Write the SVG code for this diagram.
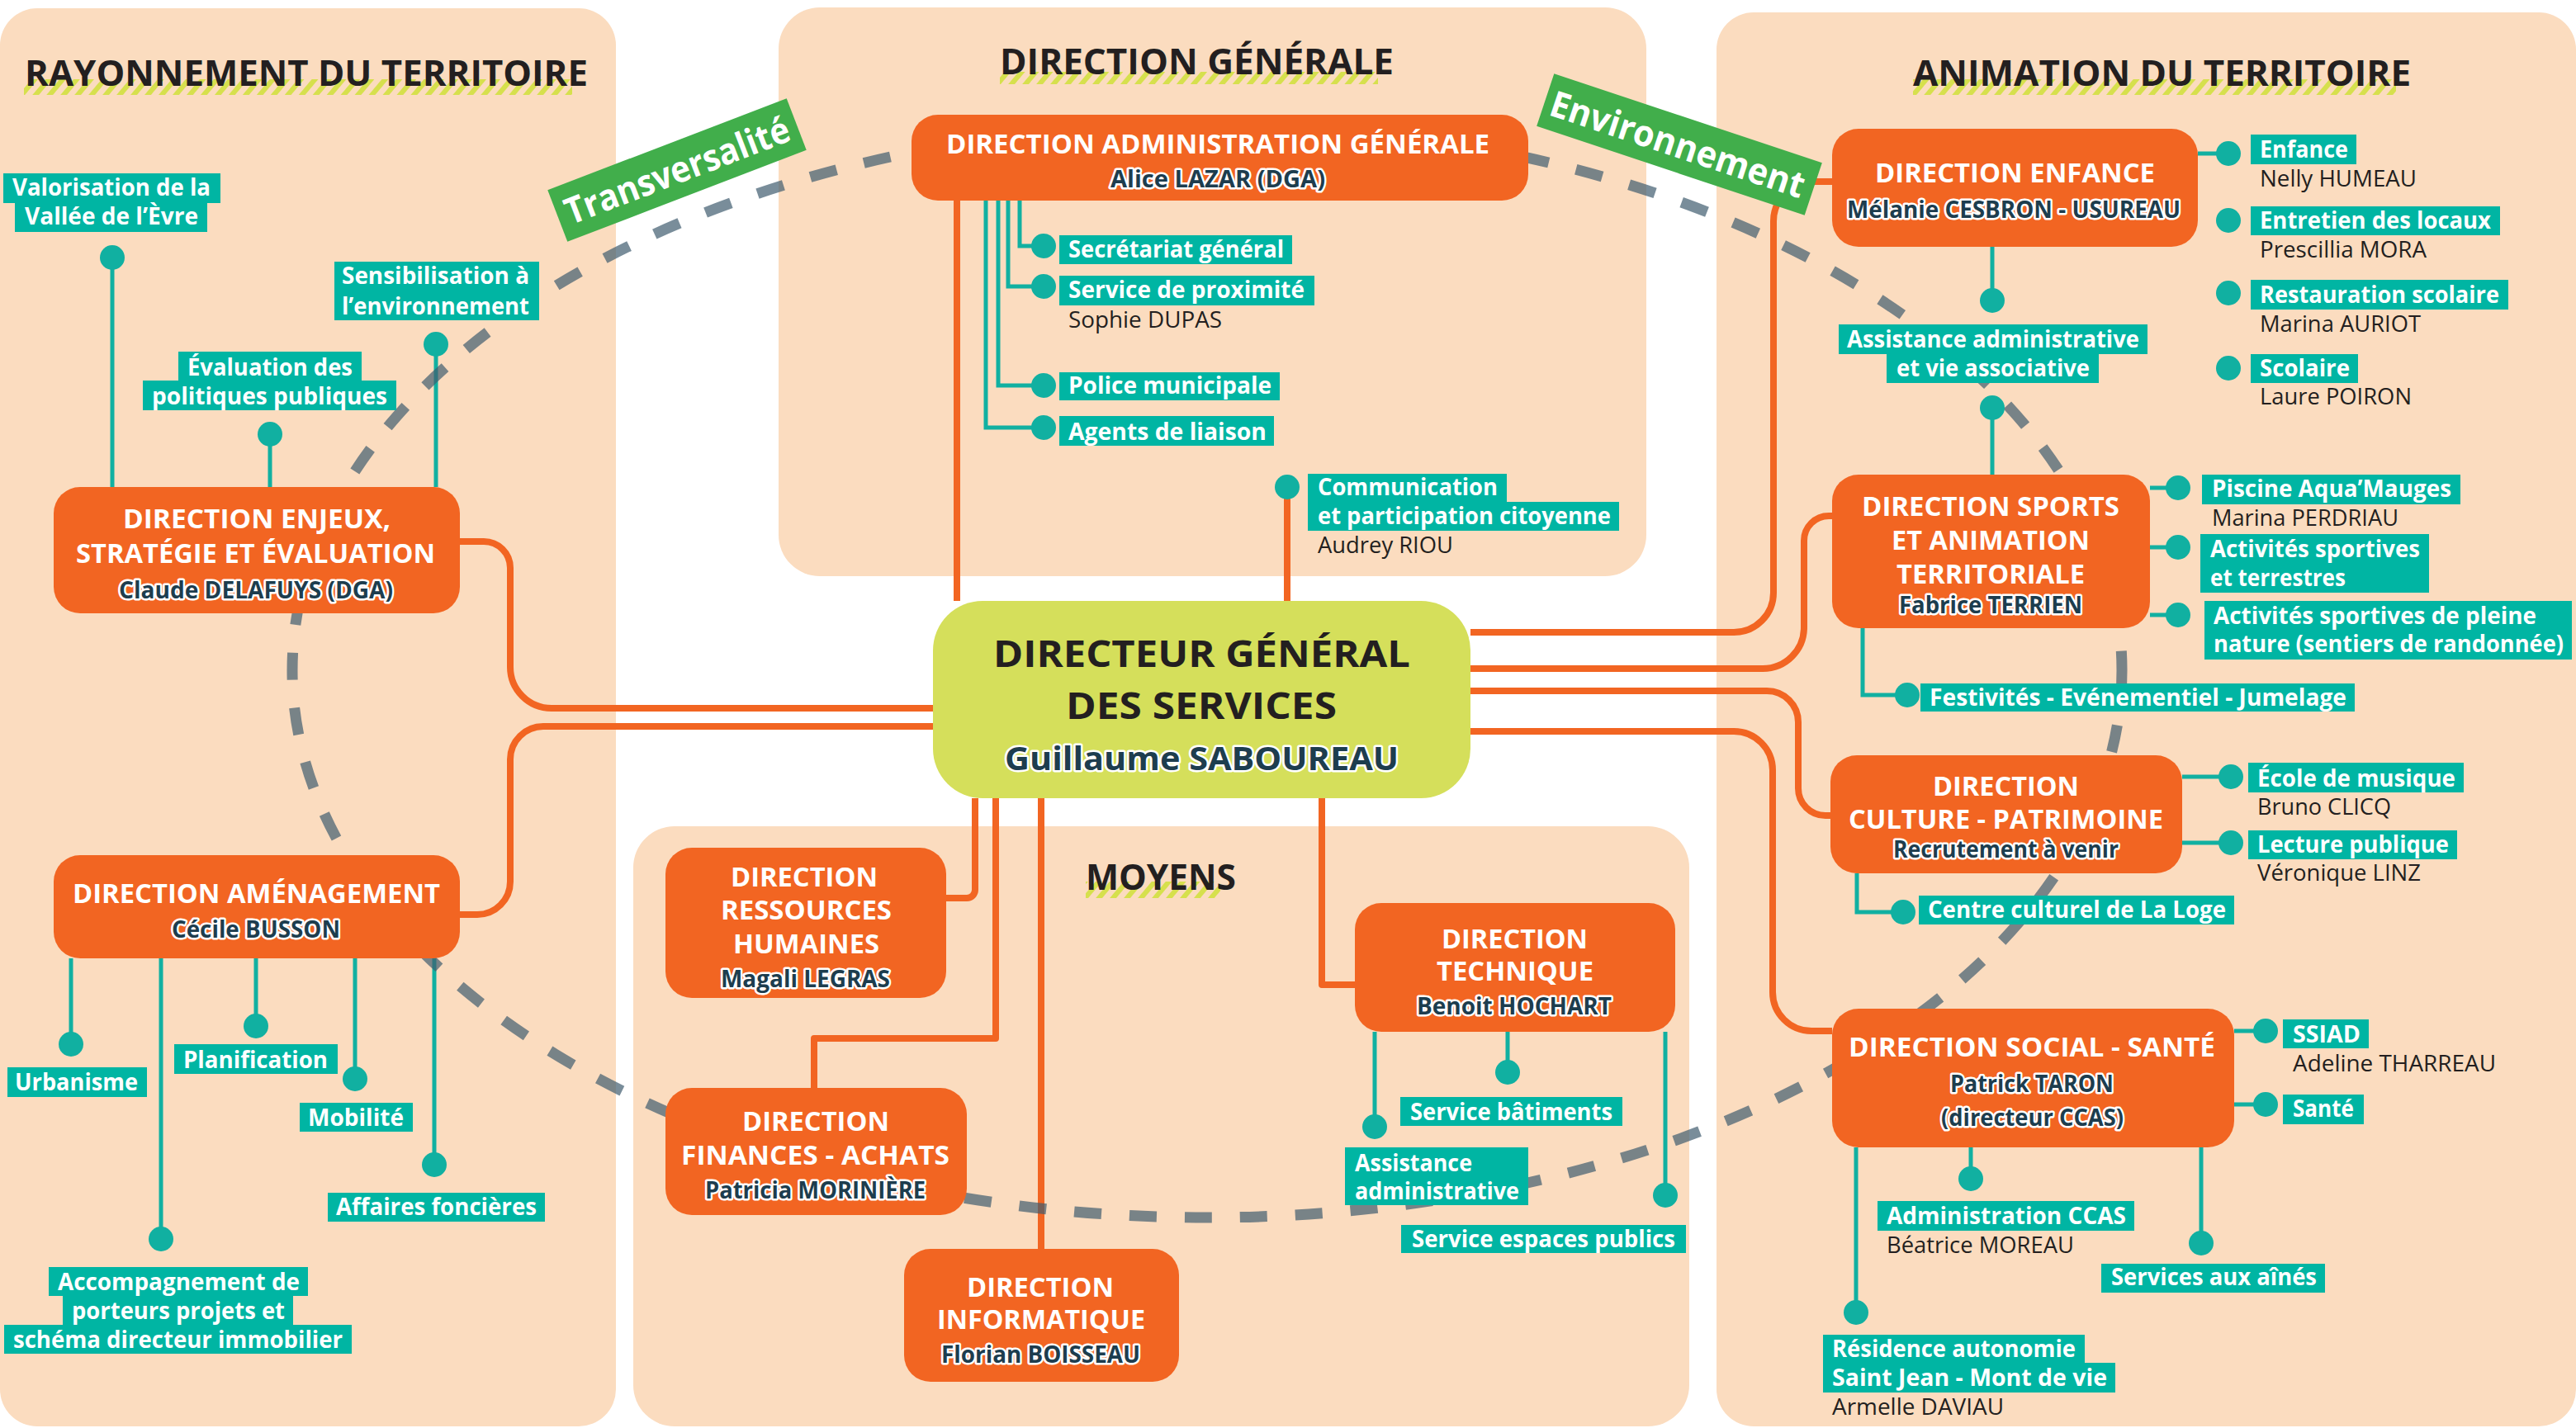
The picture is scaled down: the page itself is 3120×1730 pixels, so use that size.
<svg xmlns="http://www.w3.org/2000/svg" width="3120" height="1730" viewBox="0 0 3120 1730">
<style>
text{font-family:"Open Sans","Noto Sans","Liberation Sans",sans-serif}
.pan{fill:#fbdcbf}
.ttl{font-weight:700;font-size:43px;fill:#231f20}
.nd{fill:#f26522}
.ndt{font-weight:700;font-size:32px;fill:#fff}
.nm{font-weight:700;font-size:28px;fill:#1d3d4e;stroke:#fff;stroke-width:5;paint-order:stroke;stroke-linejoin:round}
.lb{fill:#00b5a3}
.lbt{font-weight:700;font-size:28px;fill:#fff}
.ps{font-weight:400;font-size:27px;fill:#231f20}
.or{fill:none;stroke:#f26522;stroke-width:8;stroke-linejoin:round}
.tl{fill:none;stroke:#11b0a1;stroke-width:5}
.dot{fill:#11b0a1}
.ban{fill:#41ae4b}
.bant{font-weight:700;font-size:44px;fill:#fff}
</style>
<defs>
<pattern id="hatch" patternUnits="userSpaceOnUse" width="13" height="13" patternTransform="rotate(40)">
<rect x="0" y="0" width="6" height="13" fill="#d6e04d"/>
</pattern>
</defs>
<rect width="3120" height="1730" fill="#fff"/>
<!-- panels -->
<g id="panels">
<rect class="pan" x="0" y="10" width="746" height="1718" rx="45"/>
<rect class="pan" x="943" y="9" width="1051" height="689" rx="50"/>
<rect class="pan" x="767" y="1001" width="1279" height="727" rx="50"/>
<rect class="pan" x="2079" y="15" width="1041" height="1713" rx="45"/>
</g>
<g id="titles">
<rect x="29" y="96" width="664" height="19" fill="url(#hatch)"/>
<text class="ttl" x="30" y="104" textLength="682" lengthAdjust="spacingAndGlyphs">RAYONNEMENT DU TERRITOIRE</text>
<rect x="1211" y="87" width="458" height="15" fill="url(#hatch)"/>
<text class="ttl" x="1211" y="90" textLength="477" lengthAdjust="spacingAndGlyphs">DIRECTION GÉNÉRALE</text>
<rect x="2317" y="96" width="585" height="19" fill="url(#hatch)"/>
<text class="ttl" x="2317" y="104" textLength="603" lengthAdjust="spacingAndGlyphs">ANIMATION DU TERRITOIRE</text>
<rect x="1315" y="1068" width="163" height="20" fill="url(#hatch)"/>
<text class="ttl" x="1315" y="1078" textLength="182" lengthAdjust="spacingAndGlyphs">MOYENS</text>
</g>
<!-- connectors -->
<g id="connectors">
<path class="or" d="M1159,243 V728"/>
<path class="or" d="M1559,590 V728"/>
<path class="or" d="M1130,858 H668 A50,50 0 0 1 618,808 V688 A32,32 0 0 0 586,656 H557"/>
<path class="or" d="M1130,880 H658 A40,40 0 0 0 618,920 V1068 A40,40 0 0 1 578,1108 H557"/>
<path class="or" d="M1781,766 H2100 A48,48 0 0 0 2148,718 V268 A48,48 0 0 1 2196,220 H2219"/>
<path class="or" d="M1781,810 H2135 A50,50 0 0 0 2185,760 V655 A30,30 0 0 1 2215,625 H2219"/>
<path class="or" d="M1781,837 H2140 A38,38 0 0 1 2178,875 V955 A33,33 0 0 0 2211,988 H2217"/>
<path class="or" d="M1781,886 H2100 A47,47 0 0 1 2147,933 V1202 A47,47 0 0 0 2194,1249 H2219"/>
<path class="or" d="M1181,967 V1078 A10,10 0 0 1 1171,1088 H1146"/>
<path class="or" d="M1206,967 V1258 H986 V1318"/>
<path class="or" d="M1261,967 V1513"/>
<path class="or" d="M1601,967 V1193 H1641"/>
<path class="tl" d="M1235,243 V298 H1264 M1221,243 V347 H1264 M1209,243 V467 H1264 M1194,243 V518 H1264"/>
<path class="tl" d="M136,590 V312 M327,590 V526 M528,590 V417"/>
<path class="tl" d="M86,1161 V1265 M195,1161 V1501 M310,1161 V1243 M430,1161 V1307 M526,1161 V1411"/>
<path class="tl" d="M1665,1250 V1365 M1826,1250 V1299 M2017,1250 V1448"/>
<path class="tl" d="M2662,186 H2699 M2413,299 V364 M2413,494 V575"/>
<path class="tl" d="M2604,591 H2638 M2604,663 H2638 M2604,745 H2638 M2256,761 V842 H2310"/>
<path class="tl" d="M2643,941 H2702 M2643,1021 H2702 M2249,1058 V1105 H2305"/>
<path class="tl" d="M2706,1249 H2744 M2706,1338 H2744 M2387,1390 V1428 M2666,1390 V1506 M2248,1390 V1590"/>
<ellipse cx="1462" cy="812" rx="1108" ry="663" fill="none" stroke="#405d6f" stroke-opacity="0.7" stroke-width="13" stroke-dasharray="33 34"/>
</g>
<g id="dots">
<circle class="dot" cx="136" cy="312" r="15"/><circle class="dot" cx="327" cy="526" r="15"/><circle class="dot" cx="528" cy="417" r="15"/>
<circle class="dot" cx="86" cy="1265" r="15"/><circle class="dot" cx="195" cy="1501" r="15"/><circle class="dot" cx="310" cy="1243" r="15"/><circle class="dot" cx="430" cy="1307" r="15"/><circle class="dot" cx="526" cy="1411" r="15"/>
<circle class="dot" cx="1264" cy="298" r="15"/><circle class="dot" cx="1264" cy="347" r="15"/><circle class="dot" cx="1264" cy="467" r="15"/><circle class="dot" cx="1264" cy="518" r="15"/><circle class="dot" cx="1559" cy="590" r="15"/>
<circle class="dot" cx="1665" cy="1365" r="15"/><circle class="dot" cx="1826" cy="1299" r="15"/><circle class="dot" cx="2017" cy="1448" r="15"/>
<circle class="dot" cx="2699" cy="186" r="15"/><circle class="dot" cx="2699" cy="267" r="15"/><circle class="dot" cx="2699" cy="355" r="15"/><circle class="dot" cx="2699" cy="446" r="15"/><circle class="dot" cx="2413" cy="364" r="15"/><circle class="dot" cx="2413" cy="494" r="15"/>
<circle class="dot" cx="2638" cy="591" r="15"/><circle class="dot" cx="2638" cy="663" r="15"/><circle class="dot" cx="2638" cy="745" r="15"/><circle class="dot" cx="2310" cy="842" r="15"/>
<circle class="dot" cx="2702" cy="941" r="15"/><circle class="dot" cx="2702" cy="1021" r="15"/><circle class="dot" cx="2305" cy="1105" r="15"/>
<circle class="dot" cx="2744" cy="1249" r="15"/><circle class="dot" cx="2744" cy="1338" r="15"/><circle class="dot" cx="2387" cy="1428" r="15"/><circle class="dot" cx="2666" cy="1506" r="15"/><circle class="dot" cx="2248" cy="1590" r="15"/>
</g>
<!-- banners -->
<g id="banner-transversalite" transform="translate(820,206) rotate(-21)">
<rect class="ban" x="-155" y="-33.5" width="310" height="67"/>
<text class="bant" x="-144" y="16" textLength="288" lengthAdjust="spacingAndGlyphs">Transversalité</text>
</g>
<g id="banner-environnement" transform="translate(2034,175) rotate(18.4)">
<rect class="ban" x="-171" y="-33.5" width="342" height="67"/>
<text class="bant" x="-163" y="16" textLength="322" lengthAdjust="spacingAndGlyphs">Environnement</text>
</g>
<!-- central -->
<g id="dgs">
<rect x="1130" y="728" width="651" height="239" rx="60" fill="#d5df5b"/>
<text x="1203" y="808" font-weight="700" font-size="45" fill="#231f20" textLength="505" lengthAdjust="spacingAndGlyphs">DIRECTEUR GÉNÉRAL</text>
<text x="1291" y="871" font-weight="700" font-size="45" fill="#231f20" textLength="328" lengthAdjust="spacingAndGlyphs">DES SERVICES</text>
<text class="nm" x="1217" y="933" font-size="40" textLength="477" lengthAdjust="spacingAndGlyphs" style="font-size:40px">Guillaume SABOUREAU</text>
</g>
<g id="dag">
<rect class="nd" x="1104" y="139" width="747" height="104" rx="32"/>
<text class="ndt" x="1146" y="186" textLength="658" lengthAdjust="spacingAndGlyphs">DIRECTION ADMINISTRATION GÉNÉRALE</text>
<text class="nm" x="1345" y="227" textLength="260" lengthAdjust="spacingAndGlyphs">Alice LAZAR (DGA)</text>
</g>
<g id="enjeux">
<rect class="nd" x="65" y="590" width="492" height="153" rx="32"/>
<text class="ndt" x="149" y="640" textLength="324" lengthAdjust="spacingAndGlyphs">DIRECTION ENJEUX,</text>
<text class="ndt" x="92" y="682" textLength="435" lengthAdjust="spacingAndGlyphs">STRATÉGIE ET ÉVALUATION</text>
<text class="nm" x="144" y="725" textLength="332" lengthAdjust="spacingAndGlyphs">Claude DELAFUYS (DGA)</text>
</g>
<g id="amenagement">
<rect class="nd" x="65" y="1036" width="492" height="125" rx="32"/>
<text class="ndt" x="88" y="1094" textLength="445" lengthAdjust="spacingAndGlyphs">DIRECTION AMÉNAGEMENT</text>
<text class="nm" x="208" y="1136" textLength="204" lengthAdjust="spacingAndGlyphs">Cécile BUSSON</text>
</g>
<g id="rh">
<rect class="nd" x="806" y="1027" width="340" height="182" rx="32"/>
<text class="ndt" x="885" y="1074" textLength="178" lengthAdjust="spacingAndGlyphs">DIRECTION</text>
<text class="ndt" x="873" y="1114" textLength="207" lengthAdjust="spacingAndGlyphs">RESSOURCES</text>
<text class="ndt" x="888" y="1155" textLength="177" lengthAdjust="spacingAndGlyphs">HUMAINES</text>
<text class="nm" x="873" y="1196" textLength="205" lengthAdjust="spacingAndGlyphs">Magali LEGRAS</text>
</g>
<g id="finances">
<rect class="nd" x="806" y="1318" width="365" height="154" rx="32"/>
<text class="ndt" x="899" y="1370" textLength="178" lengthAdjust="spacingAndGlyphs">DIRECTION</text>
<text class="ndt" x="825" y="1411" textLength="325" lengthAdjust="spacingAndGlyphs">FINANCES - ACHATS</text>
<text class="nm" x="854" y="1452" textLength="267" lengthAdjust="spacingAndGlyphs">Patricia MORINIÈRE</text>
</g>
<g id="informatique">
<rect class="nd" x="1095" y="1513" width="333" height="161" rx="32"/>
<text class="ndt" x="1171" y="1571" textLength="178" lengthAdjust="spacingAndGlyphs">DIRECTION</text>
<text class="ndt" x="1135" y="1610" textLength="252" lengthAdjust="spacingAndGlyphs">INFORMATIQUE</text>
<text class="nm" x="1140" y="1651" textLength="241" lengthAdjust="spacingAndGlyphs">Florian BOISSEAU</text>
</g>
<g id="technique">
<rect class="nd" x="1641" y="1094" width="388" height="156" rx="32"/>
<text class="ndt" x="1746" y="1149" textLength="177" lengthAdjust="spacingAndGlyphs">DIRECTION</text>
<text class="ndt" x="1740" y="1188" textLength="190" lengthAdjust="spacingAndGlyphs">TECHNIQUE</text>
<text class="nm" x="1716" y="1229" textLength="236" lengthAdjust="spacingAndGlyphs">Benoit HOCHART</text>
</g>
<g id="enfance">
<rect class="nd" x="2219" y="156" width="443" height="143" rx="32"/>
<text class="ndt" x="2271" y="221" textLength="339" lengthAdjust="spacingAndGlyphs">DIRECTION ENFANCE</text>
<text class="nm" x="2237" y="264" textLength="404" lengthAdjust="spacingAndGlyphs">Mélanie CESBRON - USUREAU</text>
</g>
<g id="sports">
<rect class="nd" x="2219" y="575" width="385" height="186" rx="32"/>
<text class="ndt" x="2255" y="625" textLength="312" lengthAdjust="spacingAndGlyphs">DIRECTION SPORTS</text>
<text class="ndt" x="2291" y="666" textLength="240" lengthAdjust="spacingAndGlyphs">ET ANIMATION</text>
<text class="ndt" x="2297" y="707" textLength="228" lengthAdjust="spacingAndGlyphs">TERRITORIALE</text>
<text class="nm" x="2300" y="743" textLength="222" lengthAdjust="spacingAndGlyphs">Fabrice TERRIEN</text>
</g>
<g id="culture">
<rect class="nd" x="2217" y="915" width="426" height="143" rx="32"/>
<text class="ndt" x="2341" y="964" textLength="177" lengthAdjust="spacingAndGlyphs">DIRECTION</text>
<text class="ndt" x="2239" y="1004" textLength="381" lengthAdjust="spacingAndGlyphs">CULTURE - PATRIMOINE</text>
<text class="nm" x="2293" y="1039" textLength="273" lengthAdjust="spacingAndGlyphs">Recrutement à venir</text>
</g>
<g id="social">
<rect class="nd" x="2219" y="1222" width="487" height="168" rx="32"/>
<text class="ndt" x="2239" y="1280" textLength="444" lengthAdjust="spacingAndGlyphs">DIRECTION SOCIAL - SANTÉ</text>
<text class="nm" x="2362" y="1323" textLength="198" lengthAdjust="spacingAndGlyphs">Patrick TARON</text>
<text class="nm" x="2351" y="1364" textLength="221" lengthAdjust="spacingAndGlyphs">(directeur CCAS)</text>
</g>
<!-- labels -->
<g id="lbl-valorisation"><rect class="lb" x="4" y="210" width="263" height="36"/><rect class="lb" x="18" y="246" width="233" height="35"/>
<text class="lbt" x="15" y="237" textLength="240" lengthAdjust="spacingAndGlyphs">Valorisation de la</text>
<text class="lbt" x="30" y="272" textLength="210" lengthAdjust="spacingAndGlyphs">Vallée de l’Èvre</text></g>
<g id="lbl-sensibilisation"><rect class="lb" x="405" y="317" width="248" height="35"/><rect class="lb" x="405" y="352" width="248" height="36"/>
<text class="lbt" x="414" y="344" textLength="227" lengthAdjust="spacingAndGlyphs">Sensibilisation à</text>
<text class="lbt" x="414" y="381" textLength="227" lengthAdjust="spacingAndGlyphs">l’environnement</text></g>
<g id="lbl-evaluation"><rect class="lb" x="216" y="426" width="222" height="35"/><rect class="lb" x="173" y="461" width="307" height="36"/>
<text class="lbt" x="227" y="455" textLength="200" lengthAdjust="spacingAndGlyphs">Évaluation des</text>
<text class="lbt" x="184" y="490" textLength="285" lengthAdjust="spacingAndGlyphs">politiques publiques</text></g>
<g id="lbl-urbanisme"><rect class="lb" x="9" y="1293" width="169" height="36"/>
<text class="lbt" x="18" y="1321" textLength="149" lengthAdjust="spacingAndGlyphs">Urbanisme</text></g>
<g id="lbl-planification"><rect class="lb" x="211" y="1265" width="198" height="36"/>
<text class="lbt" x="222" y="1294" textLength="175" lengthAdjust="spacingAndGlyphs">Planification</text></g>
<g id="lbl-mobilite"><rect class="lb" x="363" y="1336" width="137" height="35"/>
<text class="lbt" x="373" y="1364" textLength="116" lengthAdjust="spacingAndGlyphs">Mobilité</text></g>
<g id="lbl-affaires"><rect class="lb" x="397" y="1445" width="263" height="35"/>
<text class="lbt" x="407" y="1472" textLength="243" lengthAdjust="spacingAndGlyphs">Affaires foncières</text></g>
<g id="lbl-accompagnement"><rect class="lb" x="59" y="1535" width="314" height="35"/><rect class="lb" x="76" y="1570" width="279" height="35"/><rect class="lb" x="5" y="1605" width="421" height="35"/>
<text class="lbt" x="70" y="1563" textLength="293" lengthAdjust="spacingAndGlyphs">Accompagnement de</text>
<text class="lbt" x="87" y="1598" textLength="258" lengthAdjust="spacingAndGlyphs">porteurs projets et</text>
<text class="lbt" x="16" y="1633" textLength="399" lengthAdjust="spacingAndGlyphs">schéma directeur immobilier</text></g>
<g id="lbl-secretariat"><rect class="lb" x="1283" y="285" width="282" height="35"/>
<text class="lbt" x="1294" y="312" textLength="261" lengthAdjust="spacingAndGlyphs">Secrétariat général</text></g>
<g id="lbl-proximite"><rect class="lb" x="1283" y="334" width="309" height="36"/>
<text class="lbt" x="1294" y="361" textLength="286" lengthAdjust="spacingAndGlyphs">Service de proximité</text>
<text class="ps" x="1294" y="397" textLength="186" lengthAdjust="spacingAndGlyphs">Sophie DUPAS</text></g>
<g id="lbl-police"><rect class="lb" x="1283" y="451" width="267" height="34"/>
<text class="lbt" x="1294" y="477" textLength="246" lengthAdjust="spacingAndGlyphs">Police municipale</text></g>
<g id="lbl-agents"><rect class="lb" x="1283" y="504" width="260" height="36"/>
<text class="lbt" x="1294" y="533" textLength="240" lengthAdjust="spacingAndGlyphs">Agents de liaison</text></g>
<g id="lbl-communication"><rect class="lb" x="1584" y="574" width="241" height="34"/><rect class="lb" x="1584" y="608" width="377" height="35"/>
<text class="lbt" x="1596" y="600" textLength="218" lengthAdjust="spacingAndGlyphs">Communication</text>
<text class="lbt" x="1596" y="635" textLength="355" lengthAdjust="spacingAndGlyphs">et participation citoyenne</text>
<text class="ps" x="1596" y="670" textLength="164" lengthAdjust="spacingAndGlyphs">Audrey RIOU</text></g>
<g id="lbl-batiments"><rect class="lb" x="1696" y="1329" width="269" height="35"/>
<text class="lbt" x="1708" y="1357" textLength="245" lengthAdjust="spacingAndGlyphs">Service bâtiments</text></g>
<g id="lbl-assist-tech"><rect class="lb" x="1629" y="1390" width="222" height="70"/>
<text class="lbt" x="1641" y="1419" textLength="142" lengthAdjust="spacingAndGlyphs">Assistance</text>
<text class="lbt" x="1641" y="1453" textLength="199" lengthAdjust="spacingAndGlyphs">administrative</text></g>
<g id="lbl-espaces"><rect class="lb" x="1697" y="1484" width="345" height="34"/>
<text class="lbt" x="1710" y="1511" textLength="319" lengthAdjust="spacingAndGlyphs">Service espaces publics</text></g>
<g id="lbl-enfance"><rect class="lb" x="2726" y="163" width="128" height="36"/>
<text class="lbt" x="2737" y="191" textLength="107" lengthAdjust="spacingAndGlyphs">Enfance</text>
<text class="ps" x="2737" y="226" textLength="190" lengthAdjust="spacingAndGlyphs">Nelly HUMEAU</text></g>
<g id="lbl-entretien"><rect class="lb" x="2726" y="250" width="302" height="35"/>
<text class="lbt" x="2737" y="277" textLength="280" lengthAdjust="spacingAndGlyphs">Entretien des locaux</text>
<text class="ps" x="2737" y="312" textLength="202" lengthAdjust="spacingAndGlyphs">Prescillia MORA</text></g>
<g id="lbl-restauration"><rect class="lb" x="2726" y="339" width="312" height="36"/>
<text class="lbt" x="2737" y="367" textLength="290" lengthAdjust="spacingAndGlyphs">Restauration scolaire</text>
<text class="ps" x="2737" y="402" textLength="195" lengthAdjust="spacingAndGlyphs">Marina AURIOT</text></g>
<g id="lbl-scolaire"><rect class="lb" x="2726" y="429" width="130" height="35"/>
<text class="lbt" x="2737" y="456" textLength="109" lengthAdjust="spacingAndGlyphs">Scolaire</text>
<text class="ps" x="2737" y="490" textLength="184" lengthAdjust="spacingAndGlyphs">Laure POIRON</text></g>
<g id="lbl-assist-asso"><rect class="lb" x="2227" y="393" width="374" height="36"/><rect class="lb" x="2285" y="429" width="257" height="35"/>
<text class="lbt" x="2237" y="421" textLength="354" lengthAdjust="spacingAndGlyphs">Assistance administrative</text>
<text class="lbt" x="2297" y="456" textLength="234" lengthAdjust="spacingAndGlyphs">et vie associative</text></g>
<g id="lbl-piscine"><rect class="lb" x="2667" y="575" width="313" height="36"/>
<text class="lbt" x="2679" y="602" textLength="290" lengthAdjust="spacingAndGlyphs">Piscine Aqua’Mauges</text>
<text class="ps" x="2679" y="637" textLength="226" lengthAdjust="spacingAndGlyphs">Marina PERDRIAU</text></g>
<g id="lbl-terrestres"><rect class="lb" x="2665" y="647" width="277" height="71"/>
<text class="lbt" x="2677" y="675" textLength="254" lengthAdjust="spacingAndGlyphs">Activités sportives</text>
<text class="lbt" x="2677" y="710" textLength="164" lengthAdjust="spacingAndGlyphs">et terrestres</text></g>
<g id="lbl-pleine-nature"><rect class="lb" x="2670" y="728" width="445" height="71"/>
<text class="lbt" x="2681" y="756" textLength="391" lengthAdjust="spacingAndGlyphs">Activités sportives de pleine</text>
<text class="lbt" x="2681" y="790" textLength="424" lengthAdjust="spacingAndGlyphs">nature (sentiers de randonnée)</text></g>
<g id="lbl-festivites"><rect class="lb" x="2326" y="828" width="526" height="34"/>
<text class="lbt" x="2337" y="855" textLength="505" lengthAdjust="spacingAndGlyphs">Festivités - Evénementiel - Jumelage</text></g>
<g id="lbl-musique"><rect class="lb" x="2723" y="924" width="261" height="36"/>
<text class="lbt" x="2734" y="953" textLength="240" lengthAdjust="spacingAndGlyphs">École de musique</text>
<text class="ps" x="2734" y="987" textLength="162" lengthAdjust="spacingAndGlyphs">Bruno CLICQ</text></g>
<g id="lbl-lecture"><rect class="lb" x="2723" y="1006" width="253" height="35"/>
<text class="lbt" x="2734" y="1033" textLength="232" lengthAdjust="spacingAndGlyphs">Lecture publique</text>
<text class="ps" x="2734" y="1067" textLength="198" lengthAdjust="spacingAndGlyphs">Véronique LINZ</text></g>
<g id="lbl-loge"><rect class="lb" x="2324" y="1085" width="382" height="35"/>
<text class="lbt" x="2335" y="1112" textLength="361" lengthAdjust="spacingAndGlyphs">Centre culturel de La Loge</text></g>
<g id="lbl-ssiad"><rect class="lb" x="2765" y="1235" width="104" height="35"/>
<text class="lbt" x="2777" y="1263" textLength="82" lengthAdjust="spacingAndGlyphs">SSIAD</text>
<text class="ps" x="2777" y="1298" textLength="246" lengthAdjust="spacingAndGlyphs">Adeline THARREAU</text></g>
<g id="lbl-sante"><rect class="lb" x="2765" y="1326" width="98" height="36"/>
<text class="lbt" x="2777" y="1353" textLength="74" lengthAdjust="spacingAndGlyphs">Santé</text></g>
<g id="lbl-ccas"><rect class="lb" x="2274" y="1455" width="311" height="36"/>
<text class="lbt" x="2285" y="1483" textLength="290" lengthAdjust="spacingAndGlyphs">Administration CCAS</text>
<text class="ps" x="2285" y="1518" textLength="227" lengthAdjust="spacingAndGlyphs">Béatrice MOREAU</text></g>
<g id="lbl-aines"><rect class="lb" x="2545" y="1531" width="271" height="35"/>
<text class="lbt" x="2557" y="1557" textLength="249" lengthAdjust="spacingAndGlyphs">Services aux aînés</text></g>
<g id="lbl-residence"><rect class="lb" x="2208" y="1617" width="317" height="34"/><rect class="lb" x="2208" y="1651" width="354" height="36"/>
<text class="lbt" x="2219" y="1644" textLength="295" lengthAdjust="spacingAndGlyphs">Résidence autonomie</text>
<text class="lbt" x="2219" y="1679" textLength="333" lengthAdjust="spacingAndGlyphs">Saint Jean - Mont de vie</text>
<text class="ps" x="2219" y="1714" textLength="208" lengthAdjust="spacingAndGlyphs">Armelle DAVIAU</text></g>
</svg>
